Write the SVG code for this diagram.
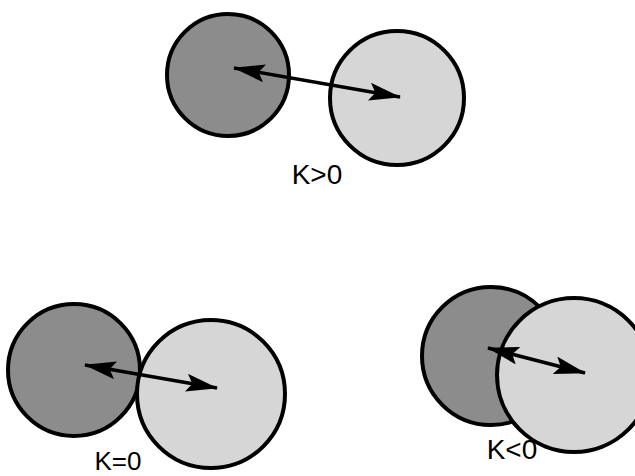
<svg xmlns="http://www.w3.org/2000/svg" width="635" height="476" viewBox="0 0 635 476">
<style>
.dark{fill:#8c8c8c;stroke:#000;stroke-width:4}
.light{fill:#d6d6d6;stroke:#000;stroke-width:4}
.arr{stroke:#000;stroke-width:3.5;fill:none;marker-start:url(#ah);marker-end:url(#ah)}
.lbl{font-family:"Liberation Sans",Arial,sans-serif;font-size:28px;fill:#000}
</style>
<defs>
<marker id="ah" viewBox="0 0 32 18" refX="31" refY="9" markerWidth="32" markerHeight="18" markerUnits="userSpaceOnUse" orient="auto-start-reverse">
<path d="M0,0 L32,9 L0,18 L6,9 Z" fill="#000"/>
</marker>
</defs>
<rect width="635" height="476" fill="#fff"/>
<g id="top-dark"><circle class="dark" cx="228" cy="75" r="61"/></g>
<g id="top-light"><circle class="light" cx="397" cy="98" r="67"/></g>
<g id="bl-dark"><circle class="dark" cx="74" cy="370" r="66"/></g>
<g id="bl-light"><circle class="light" cx="211" cy="394" r="74"/></g>
<g id="br-dark"><circle class="dark" cx="491" cy="356" r="69"/></g>
<g id="br-light"><circle class="light" cx="574" cy="375" r="77"/></g>
<g id="connectors">
<line class="arr" x1="234" y1="68" x2="400" y2="97"/>
<line class="arr" x1="85" y1="365" x2="217" y2="388"/>
<line class="arr" x1="488" y1="348" x2="585" y2="373"/>
</g>
<g id="labels">
<text class="lbl" x="317" y="184" text-anchor="middle">K&gt;0</text>
<text class="lbl" x="118" y="470" text-anchor="middle" style="font-size:26px">K=0</text>
<text class="lbl" x="512" y="459" text-anchor="middle">K&lt;0</text>
</g>
</svg>
